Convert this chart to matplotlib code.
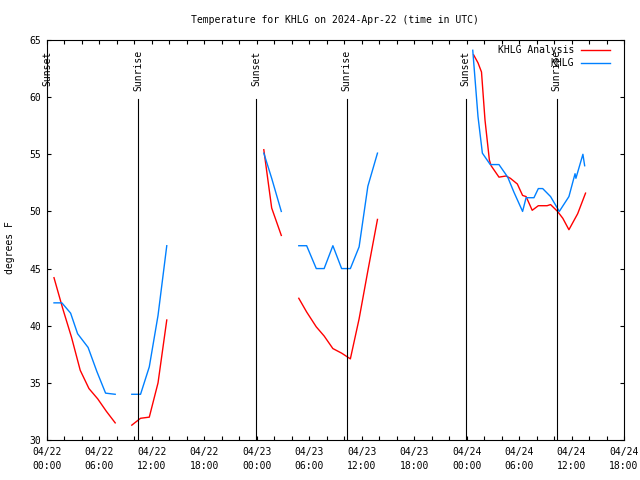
import numpy as np
import pandas as pd
import matplotlib
matplotlib.use("Agg")
import matplotlib.pyplot as plt
import matplotlib.dates as mdates
from matplotlib.lines import Line2D

#//////////////////////////////////////////////////////////////////////////////
# DATA  (hours after 2024-04-22 00:00 UTC, temperature in F, nan = gap)

nan = np.nan

analysis_hours = [0.8, 1.8, 2.8, 3.8, 4.8, 5.8, 6.8, 7.8, 8.5,
                  9.7, 10.7, 11.7, 12.7, 13.7, 14.5,
                  24.8, 25.7, 26.8, 27.5,
                  28.8, 29.7, 30.8, 31.7, 32.7, 33.7, 34.3, 34.7, 35.7, 36.7, 37.8, 38.5,
                  48.8, 49.3, 49.7, 50.1, 50.6, 50.8, 51.7, 52.5, 53.0, 53.8, 54.4,
                  54.8, 55.5, 56.2, 57.2, 57.6, 58.4, 59.0, 59.7, 60.7, 61.6]
analysis_temp = [44.2, 41.5, 39.0, 36.1, 34.5, 33.6, 32.5, 31.5, nan,
                 31.3, 31.9, 32.0, 35.0, 40.5, nan,
                 55.4, 50.3, 47.9, nan,
                 42.4, 41.2, 39.9, 39.1, 38.0, 37.6, 37.3, 37.1, 40.6, 44.8, 49.3, nan,
                 63.7, 63.0, 62.2, 58.0, 54.5, 54.0, 53.0, 53.1, 52.9, 52.4, 51.4,
                 51.3, 50.1, 50.5, 50.5, 50.6, 50.0, 49.4, 48.4, 49.8, 51.6]

obs_hours = [0.8, 1.7, 2.7, 3.5, 4.7, 5.7, 6.7, 7.8, 8.5,
             9.7, 10.7, 11.7, 12.7, 13.7, 14.5,
             24.8, 25.7, 26.8, 27.5,
             28.8, 29.7, 30.8, 31.7, 32.7, 33.7, 34.7, 35.7, 36.7, 37.8, 38.5,
             48.7, 49.3, 49.8, 50.7, 51.7, 52.7, 53.4, 54.4, 54.8, 55.7, 56.2,
             56.7, 57.6, 58.6, 59.7, 60.4, 60.5, 61.3, 61.5]
obs_temp = [42.0, 42.0, 41.1, 39.3, 38.1, 36.0, 34.1, 34.0, nan,
            34.0, 34.0, 36.4, 40.9, 47.0, nan,
            55.1, 52.9, 50.0, nan,
            47.0, 47.0, 45.0, 45.0, 47.0, 45.0, 45.0, 46.9, 52.2, 55.1, nan,
            64.1, 58.3, 55.1, 54.1, 54.1, 53.0, 51.7, 50.0, 51.2, 51.2, 52.0,
            52.0, 51.3, 50.0, 51.3, 53.3, 52.9, 55.0, 54.0]

sun_hours = [0.0, 10.4, 23.95, 34.3, 47.9, 58.3]
sun_labels = ["Sunset", "Sunrise", "Sunset", "Sunrise", "Sunset", "Sunrise"]

series_names = ["KHLG Analysis", "KHLG"]
series_colors = ["#ff0000", "#0080ff"]

start = pd.Timestamp("2024-04-22 00:00")

def to_time(hours):
    return start + pd.to_timedelta(np.array(hours), unit="h")

#//////////////////////////////////////////////////////////////////////////////
# PLOT

plt.rcParams['font.family'] = ['DejaVu Sans Mono']
plt.rcParams['font.size'] = 7

fig = plt.figure(figsize=(6.4, 4.8), dpi=100)
ax = fig.add_axes([47/640, 1 - 440/480, 577/640, 400/480])

ax.plot(to_time(analysis_hours), analysis_temp, color=series_colors[0], lw=1)
ax.plot(to_time(obs_hours), obs_temp, color=series_colors[1], lw=1)

# sunrise / sunset markers
for h, lab in zip(sun_hours, sun_labels):
    t = to_time([h])[0]
    ax.plot([t, t], [30, 59.8], color="black", lw=0.8)
    ax.text(t, 64.1, lab, rotation=90, ha="center", va="top", fontsize=7)

ax.set_xlim(start, start + pd.Timedelta(hours=66))
ax.set_ylim(30, 65)
ax.set_yticks(np.arange(30, 66, 5))

ax.xaxis.set_major_locator(mdates.HourLocator(byhour=[0, 6, 12, 18]))
ax.xaxis.set_minor_locator(mdates.HourLocator(byhour=range(0, 24, 2)))
ax.xaxis.set_major_formatter(mdates.DateFormatter("%m/%d\n%H:%M"))

ax.tick_params(which="both", direction="in", top=True, right=True, length=3, width=0.8)
ax.tick_params(axis="x", pad=5)
ax.tick_params(axis="y", pad=4)
for lbl in ax.get_xticklabels():
    lbl.set_linespacing(1.5)
for s in ax.spines.values():
    s.set_linewidth(0.8)

# legend drawn like gnuplot: text right aligned, sample line after it
for i, (name, col) in enumerate(zip(series_names, series_colors)):
    y = 1 - (10 + 12.7 * i) / 400
    ax.text(527/577, y, name, ha="right", va="center", transform=ax.transAxes, fontsize=7)
    ax.add_line(Line2D([534/577, 563/577], [y, y], color=col, lw=1, transform=ax.transAxes))

fig.text(335/640, 1 - 20/480, "Temperature for KHLG on 2024-Apr-22 (time in UTC)",
         ha="center", va="center", fontsize=7)
fig.text(10/640, 1 - 248/480, "degrees F", rotation=90, ha="center", va="center", fontsize=7)

fig.savefig("out.png", dpi=100)
